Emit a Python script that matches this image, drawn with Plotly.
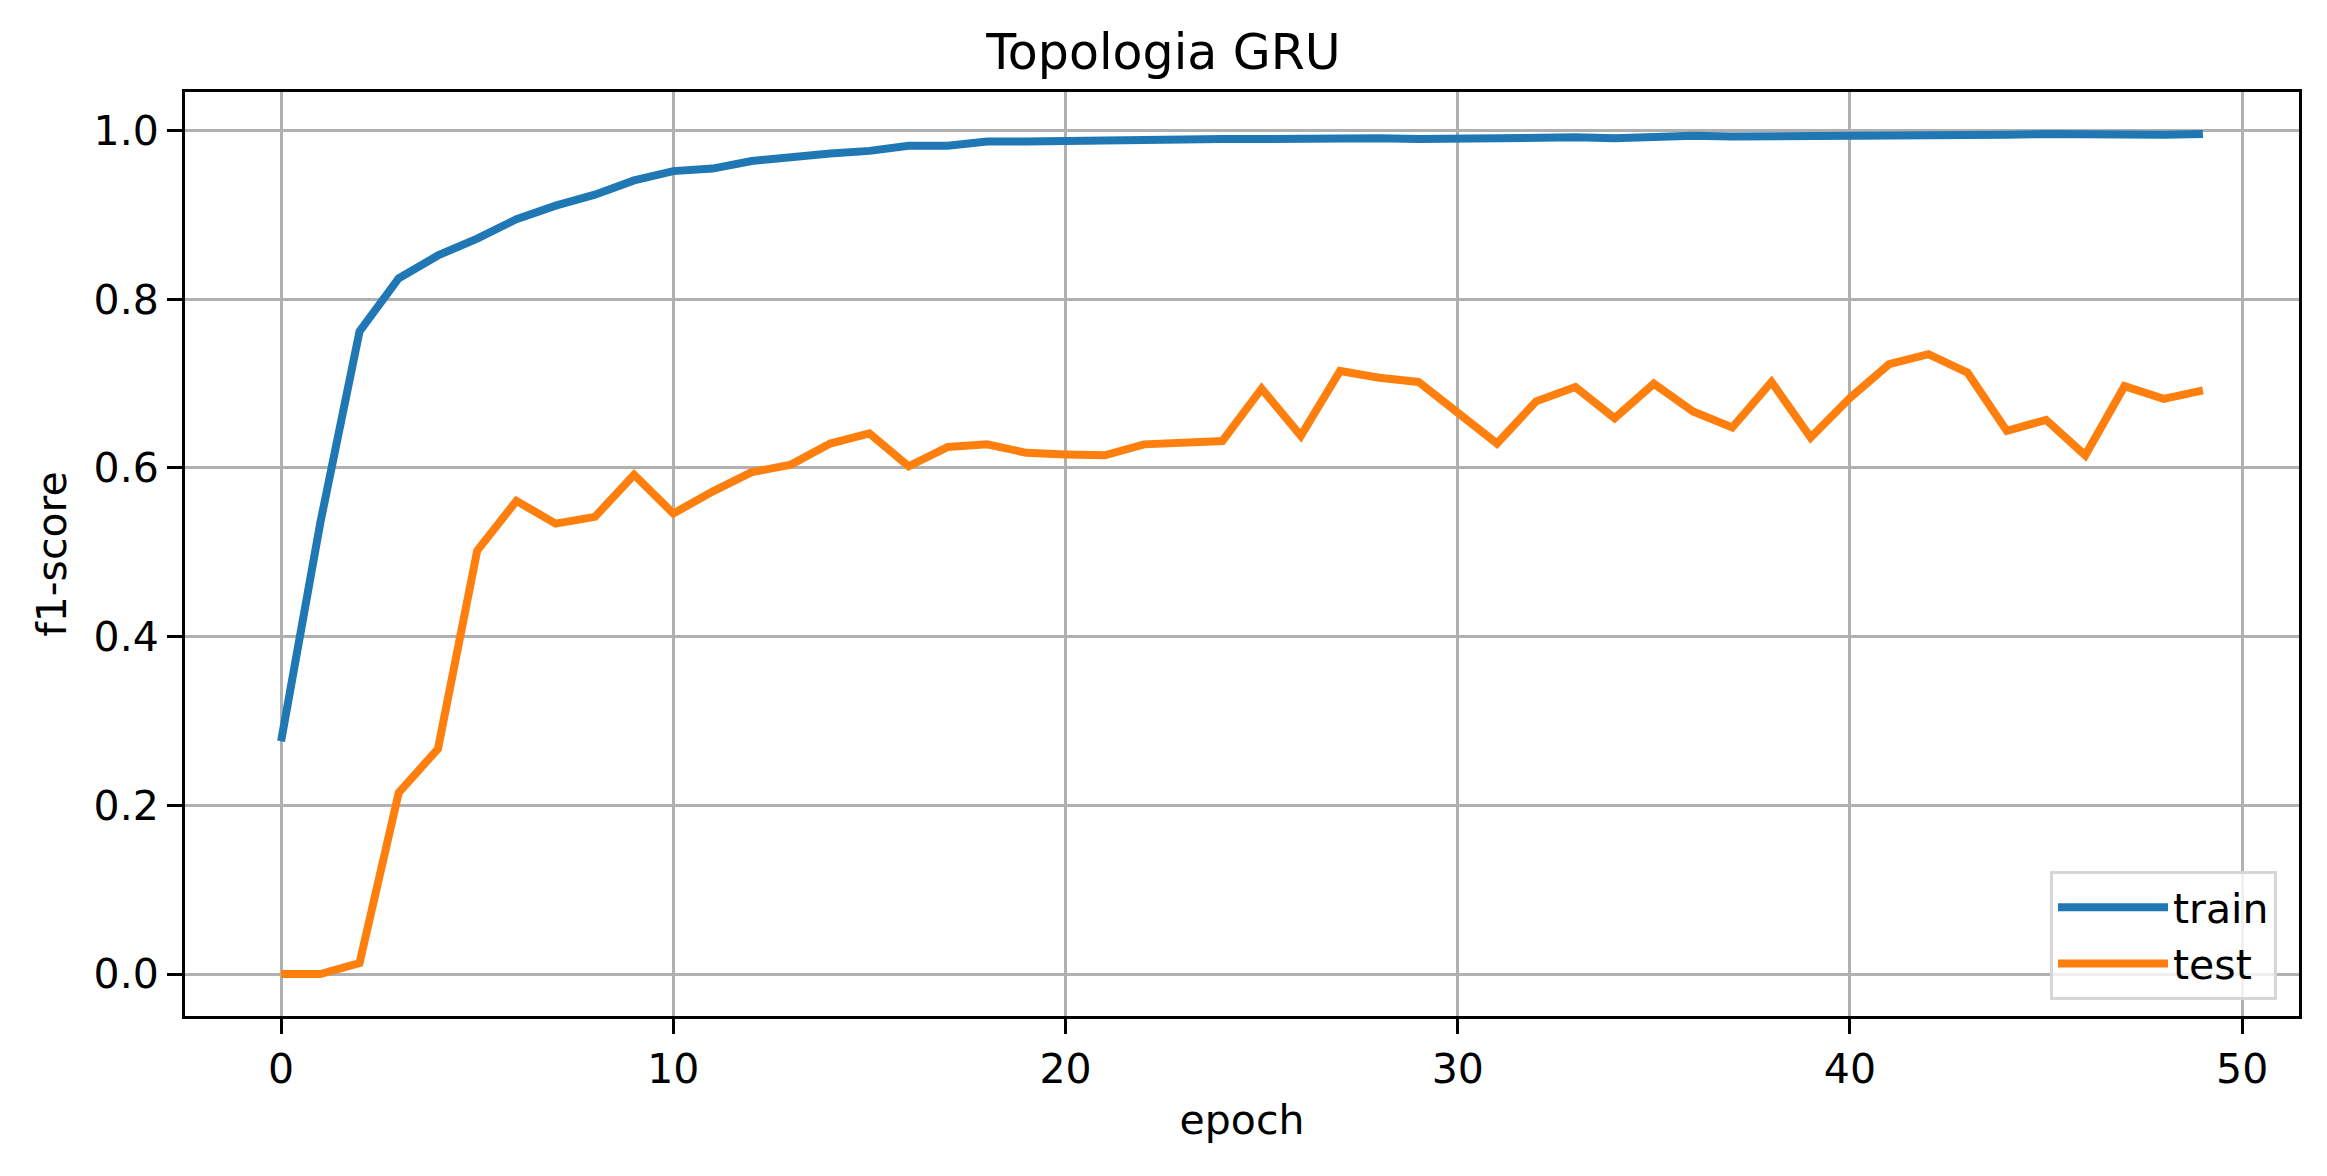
import plotly.graph_objects as go

# f1-score per epoch
epochs = list(range(50))
train_f1 = [0.276, 0.535, 0.762, 0.825, 0.852, 0.872, 0.895, 0.911, 0.924, 0.941,
            0.952, 0.955, 0.964, 0.969, 0.973, 0.976, 0.982, 0.982, 0.987, 0.987,
            0.988, 0.989, 0.990, 0.990, 0.990, 0.990, 0.991, 0.991, 0.991, 0.990,
            0.991, 0.991, 0.992, 0.992, 0.991, 0.993, 0.994, 0.993, 0.993, 0.993,
            0.995, 0.995, 0.994, 0.995, 0.995, 0.996, 0.995, 0.995, 0.995, 0.996]
test_f1 = [0.0, 0.0, 0.013, 0.215, 0.267, 0.502, 0.561, 0.534, 0.542, 0.592,
           0.546, 0.572, 0.595, 0.604, 0.629, 0.641, 0.602, 0.625, 0.628, 0.618,
           0.616, 0.615, 0.628, 0.629, 0.632, 0.694, 0.638, 0.715, 0.707, 0.702,
           0.665, 0.629, 0.679, 0.696, 0.659, 0.700, 0.667, 0.648, 0.702, 0.636,
           0.683, 0.723, 0.735, 0.713, 0.644, 0.657, 0.615, 0.697, 0.682, 0.692]
x_ticks = [0, 10, 20, 30, 40, 50]
y_ticks = [0.0, 0.2, 0.4, 0.6, 0.8, 1.0]

# page body has an 8px margin, so the figure is a bit smaller than the window
W, H = 2311, 1160

fig = go.Figure()
fig.add_trace(go.Scatter(x=epochs, y=train_f1, mode='lines', name='train',
                         line=dict(color='#1f77b4', width=8)))
fig.add_trace(go.Scatter(x=epochs, y=test_f1, mode='lines', name='test',
                         line=dict(color='#ff7f0e', width=8)))

axis_style = dict(
    showgrid=True, gridcolor='#b0b0b0', gridwidth=3,
    showline=True, linecolor='black', linewidth=3, mirror=True,
    ticks='outside', ticklen=15, tickwidth=3, tickcolor='black',
    zeroline=False,
    tickfont=dict(size=41, color='black'),
)

fig.update_xaxes(range=[-2.45, 51.45], tickvals=x_ticks,
                 title=dict(text='epoch', font=dict(size=41, color='black'), standoff=14),
                 **axis_style)
fig.update_yaxes(range=[-0.0498, 1.0458], tickvals=y_ticks, tickformat='.1f',
                 title=dict(text='f1-score', font=dict(size=41, color='black'), standoff=15),
                 **axis_style)

fig.update_layout(
    title=dict(text='Topologia GRU', x=0.5, xanchor='center',
               y=1 - 44 / H, yref='container', yanchor='middle',
               font=dict(size=49, color='black')),
    font=dict(family='DejaVu Sans', color='black'),
    width=W,
    height=H,
    margin=dict(l=177, r=20, t=84, b=152),
    plot_bgcolor='white',
    paper_bgcolor='white',
    showlegend=True,
    legend=dict(x=0.9896, y=0.0173, xanchor='right', yanchor='bottom',
                bgcolor='rgba(255,255,255,0.8)', bordercolor='#d6d6d6', borderwidth=3,
                itemwidth=110, tracegroupgap=0,
                font=dict(size=41, color='black')),
)

fig.write_html("out.html")
